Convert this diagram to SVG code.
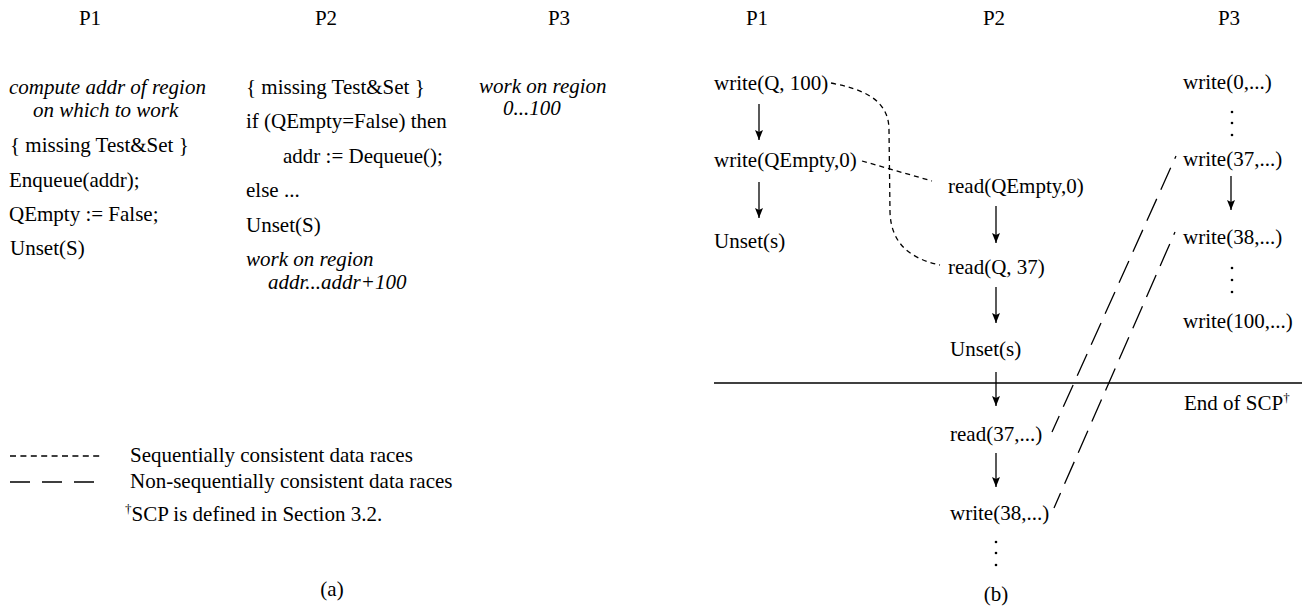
<svg xmlns="http://www.w3.org/2000/svg" width="1302" height="611" viewBox="0 0 1302 611">
<defs>
<style>
.t{font-family:"Liberation Serif","Times New Roman",serif;font-size:21px;fill:#000}
.i{font-style:italic}
.m{text-anchor:middle}
.sup{font-size:13px}
.ln{stroke:#000;stroke-width:1.3;fill:none}
.sd{stroke:#000;stroke-width:1.3;fill:none;stroke-dasharray:5 4}
.ld{stroke:#000;stroke-width:1.3;fill:none;stroke-dasharray:24 10;stroke-dashoffset:21}
.dot{fill:#000}
</style>
<marker id="ah" markerUnits="userSpaceOnUse" markerWidth="10" markerHeight="10" refX="10" refY="5" orient="auto">
<path d="M0,1 L10,5 L0,9 L2,5 z" fill="#000"/>
</marker>
</defs>
<rect width="1302" height="611" fill="#fff"/>

<g id="panel-a-headers">
<text class="t m" x="90" y="25">P1</text>
<text class="t m" x="326" y="25">P2</text>
<text class="t m" x="559" y="25">P3</text>
</g>
<g id="a-p1">
<text class="t i" x="9" y="94">compute addr of region</text>
<text class="t i" x="33" y="117">on which to work</text>
<text class="t" x="10" y="152">{ missing Test&amp;Set }</text>
<text class="t" x="9" y="187">Enqueue(addr);</text>
<text class="t" x="9" y="221">QEmpty := False;</text>
<text class="t" x="10" y="255">Unset(S)</text>
</g>
<g id="a-p2">
<text class="t" x="246" y="94">{ missing Test&amp;Set }</text>
<text class="t" x="246" y="128">if (QEmpty=False) then</text>
<text class="t" x="283" y="163">addr := Dequeue();</text>
<text class="t" x="246" y="197">else ...</text>
<text class="t" x="246" y="232">Unset(S)</text>
<text class="t i" x="246" y="266">work on region</text>
<text class="t i" x="268" y="289">addr...addr+100</text>
</g>
<g id="a-p3">
<text class="t i" x="479" y="93">work on region</text>
<text class="t i" x="503" y="115">0...100</text>
</g>
<g id="legend">
<line class="sd" x1="10" y1="456" x2="102" y2="456" style="stroke-dasharray:6 4.4"/>
<text class="t" x="130" y="462">Sequentially consistent data races</text>
<line class="ln" x1="10" y1="482" x2="94" y2="482" style="stroke-dasharray:20 12"/>
<text class="t" x="130" y="488">Non-sequentially consistent data races</text>
<text class="t" x="125" y="521"><tspan class="sup" dy="-8">†</tspan><tspan dy="8">SCP is defined in Section 3.2.</tspan></text>
<text class="t m" x="332" y="596">(a)</text>
</g>

<g id="panel-b-headers">
<text class="t m" x="757" y="25">P1</text>
<text class="t m" x="994" y="25">P2</text>
<text class="t m" x="1229" y="25">P3</text>
</g>
<g id="b-p1-write-q">
<text class="t" x="714" y="90">write(Q, 100)</text>
</g>
<g id="b-p1-write-qempty">
<text class="t" x="714" y="167">write(QEmpty,0)</text>
</g>
<g id="b-p1-unset">
<text class="t" x="714" y="248">Unset(s)</text>
</g>
<g id="b-p2-read-qempty">
<text class="t" x="948" y="193">read(QEmpty,0)</text>
</g>
<g id="b-p2-read-q">
<text class="t" x="948" y="274">read(Q, 37)</text>
</g>
<g id="b-p2-unset">
<text class="t" x="950" y="356">Unset(s)</text>
</g>
<g id="b-p2-read-37">
<text class="t" x="950" y="441">read(37,...)</text>
</g>
<g id="b-p2-write-38">
<text class="t" x="950" y="520">write(38,...)</text>
</g>
<g id="b-p3-write-0">
<text class="t" x="1183" y="89">write(0,...)</text>
</g>
<g id="b-p3-write-37">
<text class="t" x="1183" y="166">write(37,...)</text>
</g>
<g id="b-p3-write-38">
<text class="t" x="1183" y="244">write(38,...)</text>
</g>
<g id="b-p3-write-100">
<text class="t" x="1183" y="328">write(100,...)</text>
</g>
<g id="scp-boundary">
<line class="ln" x1="714" y1="383" x2="1302" y2="383"/>
<text class="t" x="1184" y="410">End of SCP<tspan class="sup" dy="-8">†</tspan></text>
</g>
<g id="b-ellipses">
<circle class="dot" cx="1232" cy="112" r="1.3"/>
<circle class="dot" cx="1232" cy="123" r="1.3"/>
<circle class="dot" cx="1232" cy="135" r="1.3"/>
<circle class="dot" cx="1232" cy="268" r="1.3"/>
<circle class="dot" cx="1232" cy="280" r="1.3"/>
<circle class="dot" cx="1232" cy="292" r="1.3"/>
<circle class="dot" cx="996" cy="542" r="1.3"/>
<circle class="dot" cx="996" cy="553" r="1.3"/>
<circle class="dot" cx="996" cy="565" r="1.3"/>
</g>
<text class="t m" x="996" y="601">(b)</text>

<g id="connectors">
<line class="ln" x1="759" y1="104" x2="759" y2="140" marker-end="url(#ah)"/>
<line class="ln" x1="759" y1="182" x2="759" y2="218" marker-end="url(#ah)"/>
<line class="ln" x1="996" y1="206" x2="996" y2="243" marker-end="url(#ah)"/>
<line class="ln" x1="996" y1="287" x2="996" y2="323" marker-end="url(#ah)"/>
<line class="ln" x1="996" y1="372" x2="996" y2="406" marker-end="url(#ah)"/>
<line class="ln" x1="996" y1="453" x2="996" y2="487" marker-end="url(#ah)"/>
<line class="ln" x1="1231" y1="176" x2="1231" y2="210" marker-end="url(#ah)"/>
<path class="sd" d="M831,83 C862,89 889,99 889,130 L890,212 C891,245 912,259 940,265"/>
<path class="sd" d="M862,161 L932,181"/>
<path class="ld" d="M1176,156 L1052,432"/>
<path class="ld" d="M1175,232 L1054,508"/>
</g>
</svg>
